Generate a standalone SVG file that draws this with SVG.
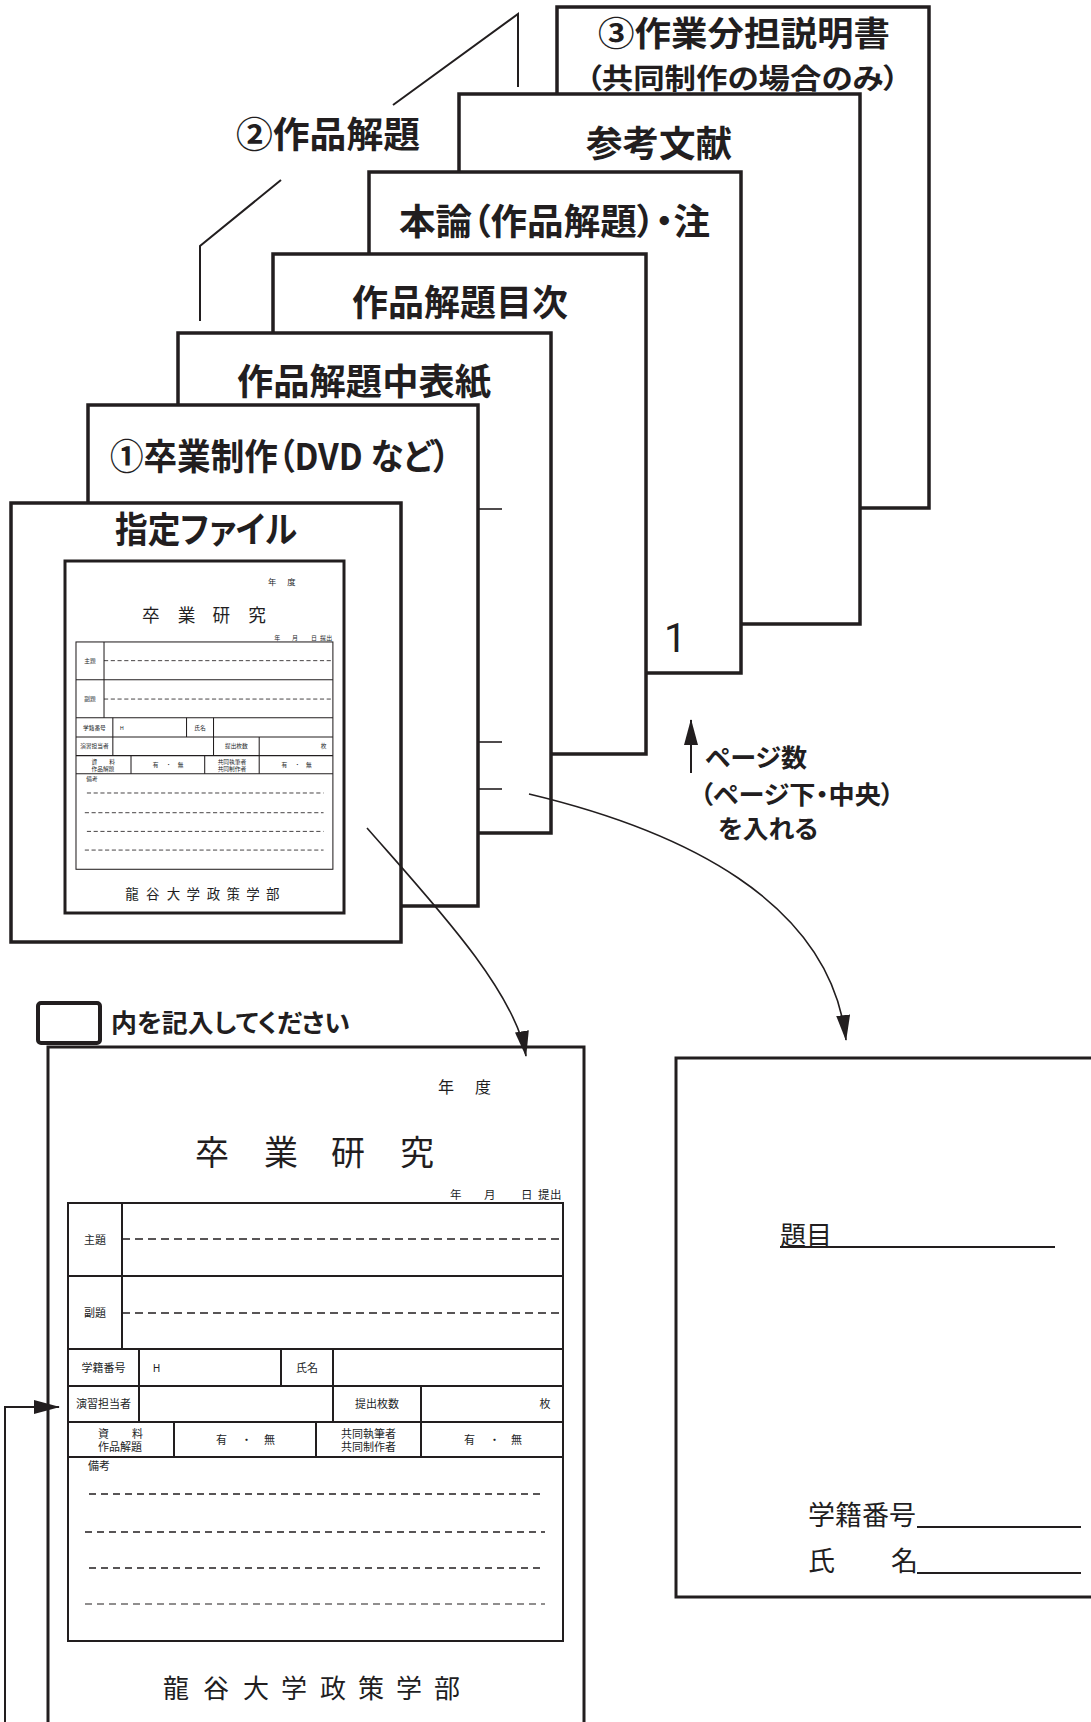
<svg xmlns="http://www.w3.org/2000/svg" width="1091" height="1722" viewBox="0 0 1091 1722">
<style>
.sheet{fill:#fff;stroke:#221e1f;stroke-width:3.5}
.lbl{font-family:'Noto Sans CJK JP','Noto Sans',sans-serif;font-weight:700;font-size:36px;fill:#221e1f;font-feature-settings:"palt"}
.ft{font-family:'Noto Sans CJK JP','Noto Sans',sans-serif;fill:#221e1f}
.tl{stroke:#221e1f;stroke-width:2;fill:none}
.thin{stroke:#221e1f;stroke-width:1.6;fill:none}
.dash{stroke:#221e1f;stroke-width:1.6;fill:none;stroke-dasharray:8 5}
.conn{stroke:#221e1f;stroke-width:1.6;fill:none}
.s11{font-size:11px}
.mid{text-anchor:middle}
</style>
<defs>
<marker id="ah" markerUnits="userSpaceOnUse" viewBox="0 0 26 14" refX="25" refY="7" markerWidth="26" markerHeight="14" orient="auto">
<path d="M0,0 L26,7 L0,14 z" fill="#221e1f"/>
</marker>
</defs>
<rect width="1091" height="1722" fill="#fff"/>

<g id="bracket">
<path class="tl" d="M393,105 L518,14 V87"/>
<path class="tl" d="M281,180 L200,246 V321"/>
<text class="lbl" x="236" y="148" textLength="184" lengthAdjust="spacingAndGlyphs">②作品解題</text>
</g>

<g id="sheet7">
<rect class="sheet" x="557" y="7" width="372" height="501"/>
<text class="lbl" x="598" y="46" style="font-size:34px" textLength="292" lengthAdjust="spacingAndGlyphs">③作業分担説明書</text>
<text class="lbl" x="586" y="89" style="font-size:28px" textLength="313" lengthAdjust="spacingAndGlyphs">（共同制作の場合のみ）</text>
</g>
<g id="sheet6">
<rect class="sheet" x="459" y="94" width="401" height="530"/>
<text class="lbl" x="586" y="157" textLength="146" lengthAdjust="spacingAndGlyphs">参考文献</text>
</g>
<g id="sheet5">
<rect class="sheet" x="369" y="172" width="372" height="501"/>
<text class="lbl" x="399" y="235" textLength="311" lengthAdjust="spacingAndGlyphs">本論（作品解題）・注</text>
<text x="664" y="652" font-family="Roboto, 'Liberation Sans', Arial, sans-serif" font-size="40" fill="#221e1f">1</text>
</g>
<g id="sheet4">
<rect class="sheet" x="273" y="254" width="373" height="500"/>
<text class="lbl" x="352" y="316" textLength="216" lengthAdjust="spacingAndGlyphs">作品解題目次</text>
</g>
<g id="sheet3">
<rect class="sheet" x="178" y="333" width="373" height="500"/>
<text class="lbl" x="237" y="395" textLength="254" lengthAdjust="spacingAndGlyphs">作品解題中表紙</text>
<line class="thin" x1="479" y1="509" x2="502" y2="509"/>
<line class="thin" x1="479" y1="742" x2="502" y2="742"/>
<line class="thin" x1="479" y1="789" x2="502" y2="789"/>
</g>
<g id="sheet2">
<rect class="sheet" x="88" y="405" width="390" height="501"/>
<text class="lbl" x="110" y="470" textLength="340" lengthAdjust="spacingAndGlyphs">①卒業制作（DVD など）</text>
</g>
<g id="sheet1">
<rect class="sheet" x="11" y="503" width="390" height="439"/>
<text class="lbl" x="115" y="543" textLength="182" lengthAdjust="spacingAndGlyphs">指定ファイル</text>
<rect x="65" y="561" width="279" height="352" fill="#fff" stroke="#221e1f" stroke-width="3"/>
<g id="mini-form" transform="matrix(0.519 0 0 0.519 40.7 17.6)">
<text class="ft" x="438 475" y="1093" style="font-size:16px">年度</text>
<text class="ft" x="195 264 331 400" y="1165" style="font-size:34px">卒業研究</text>
<text class="ft" x="450 484 521 538 550" y="1199" style="font-size:11.5px">年月日提出</text>
<rect class="tl" x="68" y="1203" width="495" height="438"/>
<line class="tl" x1="68" y1="1276" x2="563" y2="1276"/>
<line class="tl" x1="68" y1="1349" x2="563" y2="1349"/>
<line class="tl" x1="68" y1="1386" x2="563" y2="1386"/>
<line class="tl" x1="68" y1="1422" x2="563" y2="1422"/>
<line class="tl" x1="68" y1="1457" x2="563" y2="1457"/>
<line class="tl" x1="122" y1="1203" x2="122" y2="1349"/>
<path class="tl" d="M139,1349V1386M281,1349V1386M333,1349V1386M139,1386V1422M333,1386V1422M421,1386V1422M174,1422V1457M316,1422V1457M421,1422V1457"/>
<line class="dash" x1="122" y1="1239" x2="563" y2="1239"/>
<line class="dash" x1="122" y1="1313" x2="563" y2="1313"/>
<line class="dash" x1="89" y1="1494" x2="545" y2="1494"/>
<line class="dash" x1="85" y1="1532" x2="545" y2="1532"/>
<line class="dash" x1="89" y1="1568" x2="545" y2="1568"/>
<line class="dash" x1="85" y1="1604" x2="545" y2="1604"/>
<text class="ft s11 mid" x="95" y="1244">主題</text>
<text class="ft s11 mid" x="95" y="1317">副題</text>
<text class="ft s11 mid" x="103.5" y="1372">学籍番号</text>
<text x="153" y="1372" font-family="Roboto, 'Liberation Sans', sans-serif" font-size="10" fill="#221e1f">H</text>
<text class="ft s11 mid" x="307" y="1372">氏名</text>
<text class="ft s11 mid" x="103.5" y="1408">演習担当者</text>
<text class="ft s11 mid" x="377" y="1408">提出枚数</text>
<text class="ft s11 mid" x="545" y="1408">枚</text>
<text class="ft s11" x="98 132" y="1438">資料</text>
<text class="ft s11" x="98" y="1451">作品解題</text>
<text class="ft s11" x="216 241 264" y="1444">有・無</text>
<text class="ft s11" x="341" y="1438">共同執筆者</text>
<text class="ft s11" x="341" y="1451">共同制作者</text>
<text class="ft s11" x="464 489 511" y="1444">有・無</text>
<text class="ft s11" x="88" y="1470">備考</text>
<text class="ft" x="163 203 243 281 320 358 396 434" y="1698" style="font-size:26px">龍谷大学政策学部</text>
</g>
</g>

<g id="page-note">
<text class="lbl" x="705" y="767" style="font-size:25px" textLength="102" lengthAdjust="spacingAndGlyphs">ページ数</text>
<text class="lbl" x="700" y="804" style="font-size:25px" textLength="194" lengthAdjust="spacingAndGlyphs">（ページ下・中央）</text>
<text class="lbl" x="718" y="838" style="font-size:25px" textLength="100" lengthAdjust="spacingAndGlyphs">を入れる</text>
</g>

<g id="legend">
<rect x="38" y="1003" width="62" height="40" rx="3" fill="none" stroke="#221e1f" stroke-width="4"/>
<text class="lbl" x="111" y="1032" style="font-size:25px" textLength="239" lengthAdjust="spacingAndGlyphs">内を記入してください</text>
</g>

<g id="cover-form">
<path d="M48,1725 V1047 H584 V1725" fill="#fff" stroke="#221e1f" stroke-width="3"/>
<text class="ft" x="438 475" y="1093" style="font-size:16px">年度</text>
<text class="ft" x="195 264 331 400" y="1165" style="font-size:34px">卒業研究</text>
<text class="ft" x="450 484 521 538 550" y="1199" style="font-size:11.5px">年月日提出</text>
<rect class="tl" x="68" y="1203" width="495" height="438"/>
<line class="tl" x1="68" y1="1276" x2="563" y2="1276"/>
<line class="tl" x1="68" y1="1349" x2="563" y2="1349"/>
<line class="tl" x1="68" y1="1386" x2="563" y2="1386"/>
<line class="tl" x1="68" y1="1422" x2="563" y2="1422"/>
<line class="tl" x1="68" y1="1457" x2="563" y2="1457"/>
<line class="tl" x1="122" y1="1203" x2="122" y2="1349"/>
<path class="tl" d="M139,1349V1386M281,1349V1386M333,1349V1386M139,1386V1422M333,1386V1422M421,1386V1422M174,1422V1457M316,1422V1457M421,1422V1457"/>
<line class="dash" x1="122" y1="1239" x2="563" y2="1239"/>
<line class="dash" x1="122" y1="1313" x2="563" y2="1313"/>
<line class="dash" x1="89" y1="1494" x2="545" y2="1494" style="stroke-dasharray:7 5"/>
<line class="dash" x1="85" y1="1532" x2="545" y2="1532" style="stroke-dasharray:7 5"/>
<line class="dash" x1="89" y1="1568" x2="545" y2="1568" style="stroke-dasharray:7 5"/>
<line class="dash" x1="85" y1="1604" x2="545" y2="1604" style="stroke-dasharray:7 5;stroke-width:1.2"/>
<text class="ft s11 mid" x="95" y="1244">主題</text>
<text class="ft s11 mid" x="95" y="1317">副題</text>
<text class="ft s11 mid" x="103.5" y="1372">学籍番号</text>
<text x="153" y="1372" font-family="Roboto, 'Liberation Sans', sans-serif" font-size="10" fill="#221e1f">H</text>
<text class="ft s11 mid" x="307" y="1372">氏名</text>
<text class="ft s11 mid" x="103.5" y="1408">演習担当者</text>
<text class="ft s11 mid" x="377" y="1408">提出枚数</text>
<text class="ft s11 mid" x="545" y="1408">枚</text>
<text class="ft s11" x="98 132" y="1438">資料</text>
<text class="ft s11" x="98" y="1451">作品解題</text>
<text class="ft s11" x="216 241 264" y="1444">有・無</text>
<text class="ft s11" x="341" y="1438">共同執筆者</text>
<text class="ft s11" x="341" y="1451">共同制作者</text>
<text class="ft s11" x="464 489 511" y="1444">有・無</text>
<text class="ft s11" x="88" y="1470">備考</text>
<text class="ft" x="163 203 243 281 320 358 396 434" y="1698" style="font-size:26px">龍谷大学政策学部</text>
</g>

<g id="title-page">
<rect x="676" y="1058" width="430" height="539" fill="#fff" stroke="#221e1f" stroke-width="3"/>
<text class="ft" x="780" y="1245" style="font-size:26px">題目</text>
<line class="tl" x1="780" y1="1247" x2="1055" y2="1247"/>
<text class="ft" x="808" y="1525" style="font-size:27px">学籍番号</text>
<line class="tl" x1="917" y1="1527" x2="1081" y2="1527"/>
<text class="ft" x="808 891" y="1571" style="font-size:27px">氏名</text>
<line class="tl" x1="917" y1="1573" x2="1081" y2="1573"/>
</g>

<g id="connectors">
<path class="conn" d="M367,828 C430,900 515,990 526,1056" marker-end="url(#ah)"/>
<path class="conn" d="M529,794 C680,830 830,900 846,1040" marker-end="url(#ah)"/>
<path class="tl" d="M5,1722 V1407 H59" marker-end="url(#ah)"/>
<path class="tl" d="M691,773 V720" marker-end="url(#ah)"/>
</g>
</svg>
